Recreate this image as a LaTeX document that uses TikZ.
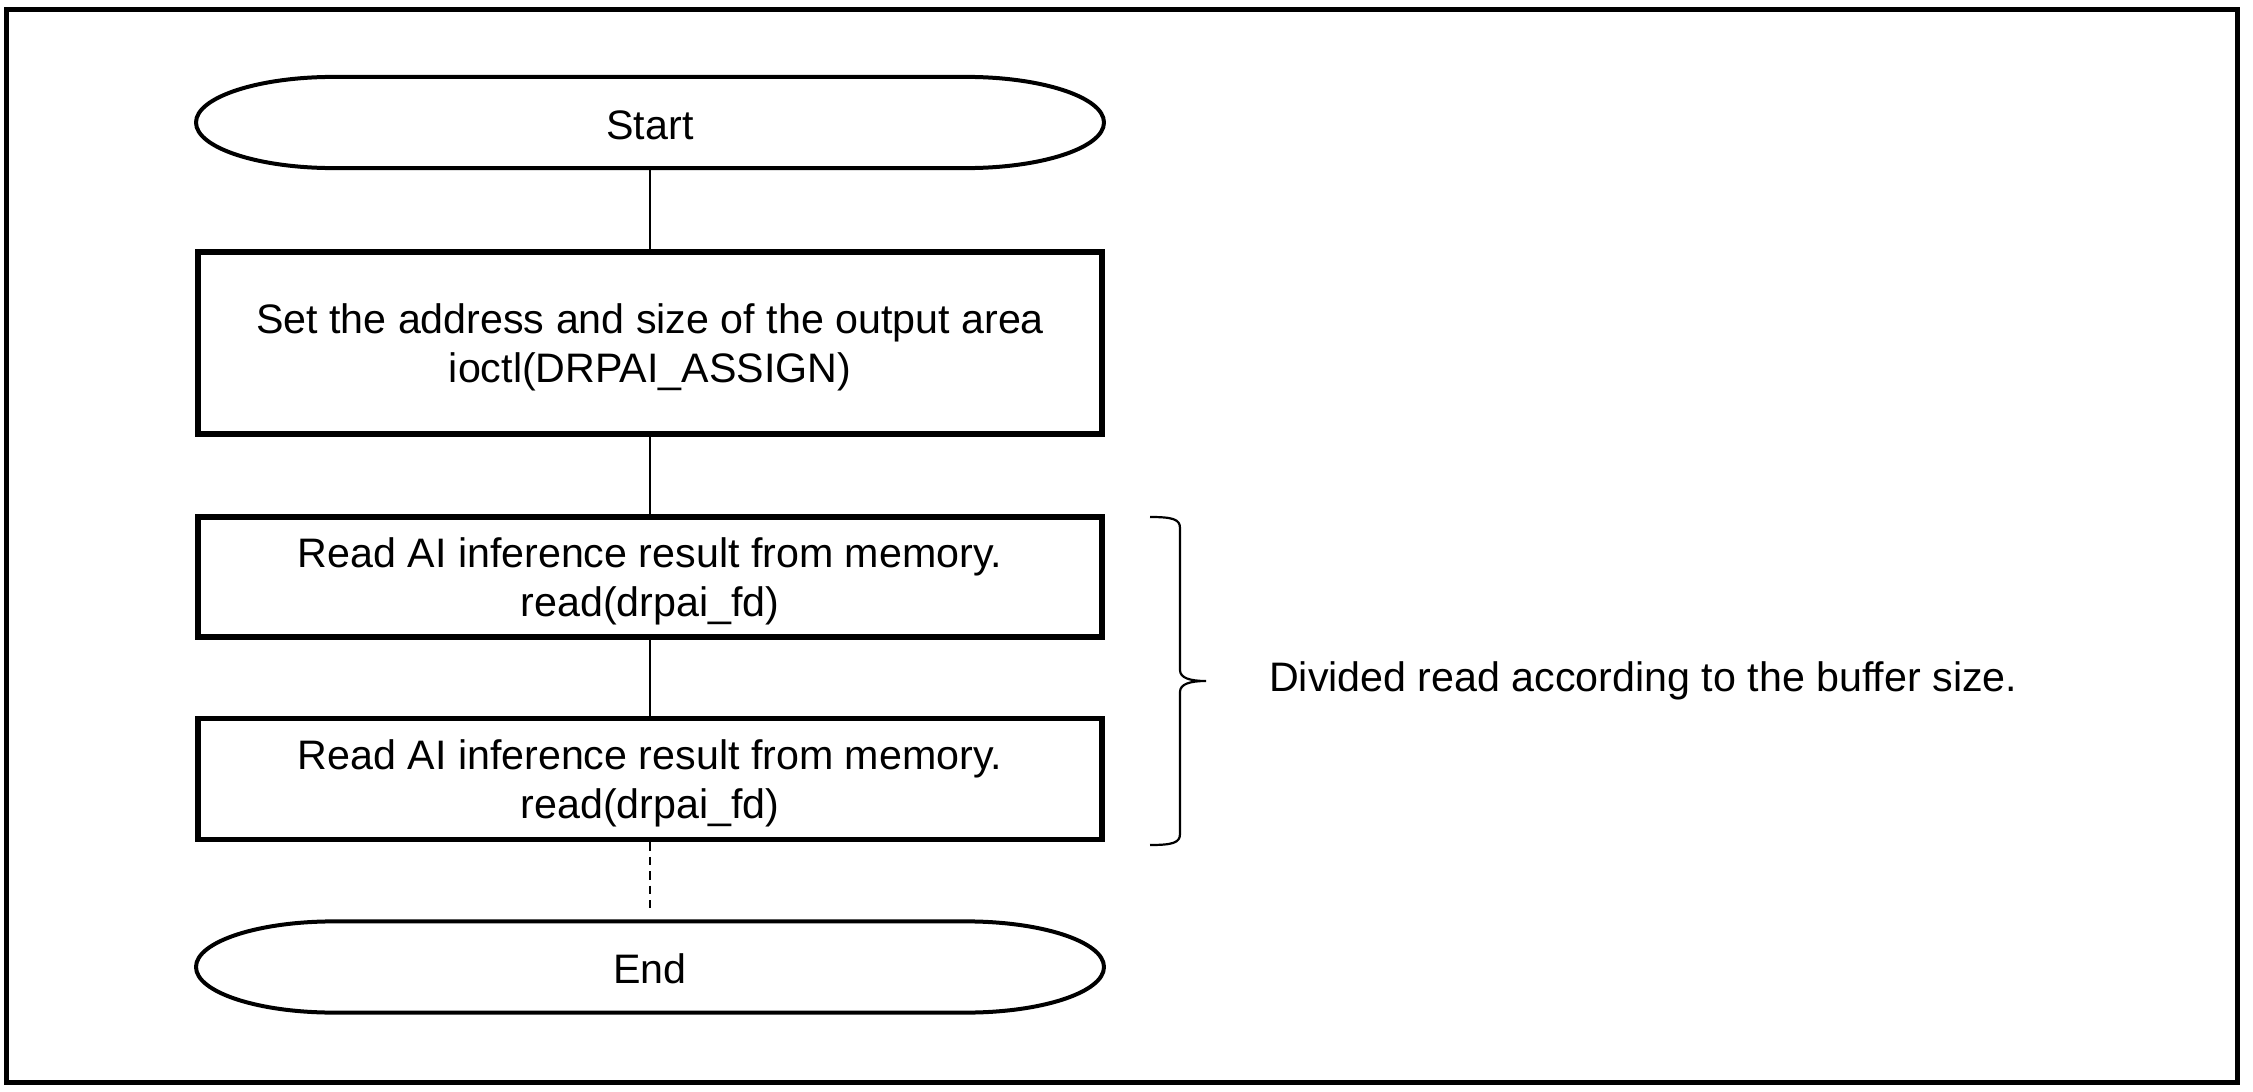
\documentclass[tikz,border=0pt]{standalone}
\usepackage{fontspec}
\setmainfont{Liberation Sans}
\newcommand{\tstrut}{\rule{0pt}{9.5pt}}
\newcommand{\termoutline}[1]{%
  \draw[termline] ([xshift=34.5pt]#1.north west) -- ([xshift=-34.5pt]#1.north east)
    arc[start angle=90, end angle=-90, x radius=34.5pt, y radius=11.4pt]
    -- ([xshift=34.5pt]#1.south west)
    arc[start angle=270, end angle=90, x radius=34.5pt, y radius=11.4pt] -- cycle;}
\begin{document}
\begin{tikzpicture}[x=0.25pt, y=-0.25pt,
    every node/.style={font=\fontsize{10.3}{12.2}\selectfont, align=center},
    term/.style={rectangle, minimum width=227pt, minimum height=22.8pt, inner sep=0pt, outer sep=0pt},
    termline/.style={line width=1pt, line join=round},
    proc/.style={rectangle, draw, line width=1.3pt, minimum width=226pt, inner sep=0pt},
    link/.style={line width=0.45pt}]
	% 1. 外框
	\useasboundingbox (0,0) rectangle (2253,1092);
	\draw[line width=1.25pt] (6,9) rectangle (2237,1082);
	
	% 2. 流程节点
	\node[term] (start) at (650,122.5) {\rule{0pt}{8.5pt}Start};
	\termoutline{start}
	\node[proc, minimum height=45.5pt] (assign) at (650,343) {\tstrut Set the address and size of the output area\\ioctl(DRPAI\_ASSIGN)};
	\node[proc, minimum height=30pt] (readA) at (650,577) {\tstrut Read AI inference result from memory.\\read(drpai\_fd)};
	\node[proc, minimum height=30.4pt] (readB) at (650,779) {\tstrut Read AI inference result from memory.\\read(drpai\_fd)};
	\node[term] (end) at (650,967) {\rule{0pt}{8.5pt}End};
	\termoutline{end}
	
	% 3. 连线
	\draw[link] (start.south) -- (assign.north);
	\draw[link] (assign.south) -- (readA.north);
	\draw[link] (readA.south) -- (readB.north);
	\draw[link, dash pattern=on 2.1pt off 1.5pt, shorten >=2pt] (readB.south) -- (end.north);
	
	% 4. 大括号与说明
	\draw[line width=0.55pt] (1150,517) .. controls (1172,517) and (1180,519) .. (1180,528)
	  -- (1180,670) .. controls (1180,678) and (1190,681) .. (1206,681)
	  .. controls (1190,681) and (1180,684) .. (1180,692)
	  -- (1180,834) .. controls (1180,843) and (1172,845) .. (1150,845);
	\node[anchor=west] (divided) at (1255,681) {Divided read according to the buffer size.};
\end{tikzpicture}
\end{document}
